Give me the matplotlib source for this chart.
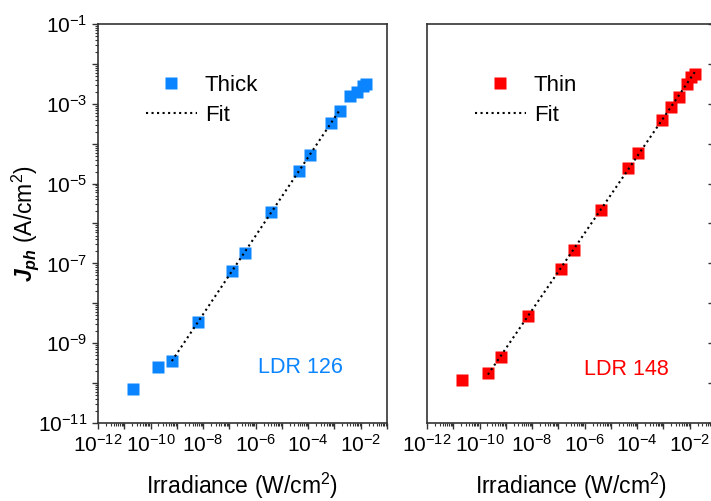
import numpy as np
import matplotlib
matplotlib.use("Agg")
import matplotlib.pyplot as plt
from matplotlib.ticker import FixedLocator, LogLocator, FuncFormatter, NullFormatter

plt.rcParams['font.family'] = ['Liberation Sans', 'DejaVu Sans']
plt.rcParams['mathtext.fontset'] = 'custom'
plt.rcParams['mathtext.rm'] = 'Liberation Sans'
plt.rcParams['mathtext.it'] = 'Liberation Sans:italic:bold'
plt.rcParams['mathtext.bf'] = 'Liberation Sans:bold'

# Thick device (LDR 126): irradiance (W/cm2) and photocurrent density (A/cm2)
thick_irr = 10 ** np.array([-10.67, -9.72, -9.19, -8.20, -6.90, -6.41, -5.42, -4.36,
                            -3.94, -3.14, -2.80, -2.42, -2.15, -1.92, -1.81])
thick_jph = 10 ** np.array([-10.15, -9.60, -9.45, -8.47, -7.19, -6.74, -5.71, -4.68,
                            -4.28, -3.48, -3.18, -2.80, -2.70, -2.55, -2.50])

# Thin device (LDR 148)
thin_irr = 10 ** np.array([-10.67, -9.68, -9.19, -8.16, -6.90, -6.41, -5.38, -4.36,
                           -3.98, -3.06, -2.72, -2.42, -2.11, -1.96, -1.81])
thin_jph = 10 ** np.array([-9.92, -9.75, -9.35, -8.32, -7.14, -6.66, -5.66, -4.61,
                           -4.23, -3.41, -3.08, -2.83, -2.50, -2.33, -2.25])

# which points go into the power-law fit
thick_fit_idx = slice(2, 11)
thin_fit_idx = slice(1, 15)

blue = '#0A84FF'
red = '#FF0000'
spine_col = '#333333'


def power_fit(x, y):
    k, b = np.polyfit(np.log10(x), np.log10(y), 1)
    xs = np.logspace(np.log10(x.min()), np.log10(x.max()), 50)
    return xs, 10 ** (k * np.log10(xs) + b)


def sci_label(keep):
    def f(v, pos):
        e = int(round(np.log10(v)))
        if e % 2 != keep:
            return ''
        return r'$\mathdefault{10^{%d}}$' % e
    return f


def style_axes(ax):
    ax.set_xscale('log')
    ax.set_yscale('log')
    ax.set_xlim(1e-12, 1e-1)
    ax.set_ylim(1e-11, 1e-1)
    ax.xaxis.set_major_locator(FixedLocator(10.0 ** np.arange(-12, 0)))
    ax.xaxis.set_minor_locator(LogLocator(base=10, subs=np.arange(2, 10), numticks=100))
    ax.xaxis.set_major_formatter(FuncFormatter(sci_label(0)))
    ax.xaxis.set_minor_formatter(NullFormatter())
    ax.yaxis.set_major_locator(FixedLocator(10.0 ** np.arange(-11, 0)))
    ax.yaxis.set_minor_locator(LogLocator(base=10, subs=np.arange(2, 10), numticks=100))
    ax.yaxis.set_major_formatter(FuncFormatter(sci_label(1)))
    ax.yaxis.set_minor_formatter(NullFormatter())
    for s in ax.spines.values():
        s.set_color(spine_col)
        s.set_linewidth(1.2)
    ax.tick_params(which='major', length=4, width=1, color=spine_col, labelsize=15)
    ax.tick_params(which='minor', length=2.5, width=0.8, color=spine_col)
    ax.set_xlabel('Irradiance (W/cm$^2$)', fontsize=16.5, labelpad=11)


fig = plt.figure(figsize=(7.11, 5.01), dpi=100)
ax1 = fig.add_axes([98 / 711, 78 / 501, 289 / 711, 399 / 501])
ax2 = fig.add_axes([427 / 711, 78 / 501, 289 / 711, 399 / 501])

leg_kw = dict(loc='upper left', bbox_to_anchor=(0.135, 0.895), frameon=False, fontsize=16,
              handlelength=2.3, handletextpad=0.35, labelspacing=0.4, borderaxespad=0)

# left panel
style_axes(ax1)
ax1.plot(thick_irr, thick_jph, 's', color=blue, ms=8.5, mec='none', label='Thick')
fx, fy = power_fit(thick_irr[thick_fit_idx], thick_jph[thick_fit_idx])
ax1.plot(fx, fy, ':', color='black', lw=1.5, label='Fit')
ax1.set_ylabel(r'$J_{ph}$ (A/cm$^2$)', fontsize=16.5, labelpad=-2)
ax1.text(0.70, 0.138, 'LDR 126', color=blue, fontsize=15.5, ha='center', va='center',
         transform=ax1.transAxes)
ax1.legend(**leg_kw)

# right panel
style_axes(ax2)
ax2.plot(thin_irr, thin_jph, 's', color=red, ms=8.5, mec='none', label='Thin')
fx, fy = power_fit(thin_irr[thin_fit_idx], thin_jph[thin_fit_idx])
ax2.plot(fx, fy, ':', color='black', lw=1.5, label='Fit')
ax2.tick_params(axis='y', which='both', left=False, labelleft=False)
ax2.tick_params(axis='y', which='major', right=True, direction='in', length=6)
ax2.text(0.689, 0.133, 'LDR 148', color=red, fontsize=15.5, ha='center', va='center',
         transform=ax2.transAxes)
ax2.legend(**leg_kw)

fig.savefig('out.png', dpi=100)
